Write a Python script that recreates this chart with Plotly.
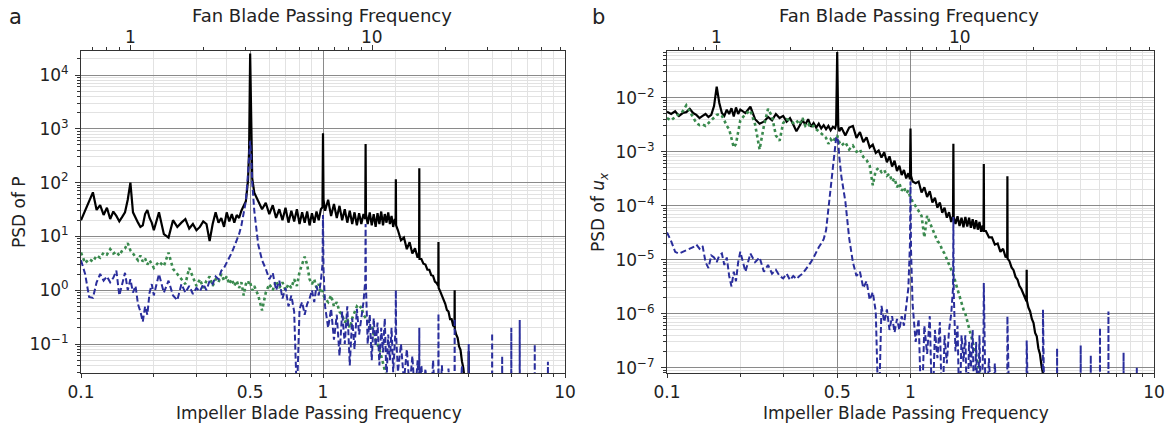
import math
import plotly.graph_objects as go

# ---------------- data ----------------
# frequency, in impeller blade passing frequencies (shared by all series)
freq = [
    0.100, 0.104, 0.108, 0.112, 0.116, 0.120, 0.124, 0.128, 0.132, 0.136,
    0.140, 0.144, 0.148, 0.152, 0.156, 0.160, 0.164, 0.168, 0.172, 0.176,
    0.180, 0.184, 0.188, 0.192, 0.196, 0.200, 0.210, 0.220, 0.230, 0.240,
    0.250, 0.260, 0.270, 0.280, 0.290, 0.300, 0.310, 0.320, 0.330, 0.340,
    0.350, 0.360, 0.370, 0.380, 0.390, 0.400, 0.410, 0.420, 0.430, 0.440,
    0.450, 0.460, 0.470, 0.480, 0.490, 0.495, 0.500, 0.505, 0.510, 0.520,
    0.540, 0.560, 0.580, 0.600, 0.620, 0.640, 0.660, 0.680, 0.700, 0.720,
    0.740, 0.760, 0.780, 0.800, 0.820, 0.840, 0.860, 0.880, 0.900, 0.920,
    0.940, 0.960, 0.980, 0.995, 1.000, 1.005, 1.020, 1.050, 1.080, 1.110,
    1.140, 1.170, 1.200, 1.230, 1.260, 1.290, 1.320, 1.350, 1.380, 1.410,
    1.440, 1.470, 1.495, 1.500, 1.505, 1.530, 1.560, 1.590, 1.620, 1.650,
    1.680, 1.710, 1.740, 1.770, 1.800, 1.830, 1.860, 1.890, 1.920, 1.950,
    1.980, 1.995, 2.000, 2.005, 2.040, 2.100, 2.160, 2.220, 2.280, 2.340,
    2.400, 2.460, 2.495, 2.500, 2.505, 2.550, 2.600, 2.650, 2.700, 2.750,
    2.800, 2.850, 2.900, 2.950, 2.995, 3.000, 3.005, 3.050, 3.100, 3.150,
    3.200, 3.250, 3.300, 3.350, 3.400, 3.450, 3.495, 3.500, 3.505, 3.550,
    3.600, 3.650, 3.700, 3.750, 3.800, 3.850, 3.900, 3.950, 3.995, 4.000,
    4.005, 4.200, 4.500, 4.800, 4.995, 5.000, 5.005, 5.200, 5.495, 5.500,
    5.505, 5.800, 5.995, 6.000, 6.005, 6.300, 6.495, 6.500, 6.505, 7.000,
    7.495, 7.500, 7.505, 8.000, 8.495, 8.500, 8.505, 9.000, 9.500, 10.00,
]

# panel a: PSD of P
p_black = [
    20, 30, 45, 66, 31, 38, 25, 34, 21, 29,
    24, 19, 23, 28, 48, 100, 28, 22, 18, 15,
    16, 26, 31, 22, 18, 13, 28, 11, 9.5, 20,
    15, 18, 21, 14, 17, 13, 15, 19, 17, 8.2,
    17, 28, 18, 22, 15, 28, 19, 26, 18, 25,
    22, 30, 36, 45, 110, 400, 25000, 450, 120, 65,
    45, 32, 42, 26, 38, 22, 32, 20, 34, 18,
    30, 19, 32, 17, 28, 18, 29, 16, 27, 18,
    29, 20, 32, 35, 830, 48, 30, 48, 24, 40,
    22, 37, 20, 32, 18, 30, 17, 28, 16, 27,
    17, 26, 21, 520, 26, 17, 28, 16, 26, 15,
    27, 17, 29, 16, 26, 18, 28, 17, 24, 15,
    21, 17, 115, 16, 13, 8.5, 9.5, 5.8, 7.8, 4.8,
    6.0, 4.0, 5.0, 185, 3.8, 3.8, 3.1, 3.0, 2.4, 2.4,
    1.9, 1.85, 1.45, 1.35, 1.2, 7.9, 1.1, 0.95, 0.8, 0.65,
    0.56, 0.43, 0.4, 0.29, 0.29, 0.22, 0.21, 1.0, 0.19, 0.15,
    0.13, 0.09, 0.078, 0.048, 0.036, 0.021, 0.014, 0.01, 0.008, 0.073,
    0.006,
]
p_blue = [
    3.6, 2.0, 0.75, 0.72, 1.4, 2.0, 1.5, 1.8, 1.4, 1.7,
    2.3, 0.8, 1.3, 2.1, 1.0, 1.6, 0.9, 1.2, 0.55, 0.4,
    0.26, 0.5, 0.35, 0.9, 1.3, 0.8, 2.0, 0.9, 1.5, 0.8,
    0.65, 1.3, 0.9, 1.2, 0.85, 1.1, 0.95, 1.3, 1.0, 1.5,
    1.3, 1.8, 1.6, 2.3, 2.6, 3.2, 3.9, 5.0, 6.5, 8.5,
    11, 16, 26, 45, 150, 400, 600, 300, 100, 30,
    7, 3.6, 2.5, 1.6, 2.1, 1.0, 1.5, 0.7, 1.1, 0.5,
    0.8, 0.4, 0.01, 0.45, 0.6, 0.35, 0.55, 0.7, 1.0, 0.6,
    1.2, 0.8, 1.5, 3, 25, 2.5, 0.5, 0.2, 0.45, 0.12,
    0.35, 0.06, 0.4, 0.1, 0.5, 0.04, 0.3, 0.08, 0.45, 0.15,
    0.3, 0.6, 1.5, 17, 1.2, 0.1, 0.35, 0.05, 0.3, 0.09,
    0.25, 0.04, 0.2, 0.07, 0.3, 0.02, 0.15, 0.05, 0.2, 0.03,
    0.12, 0.2, 1.0, 0.15, 0.03, 0.1, 0.02, 0.08, 0.015, 0.06,
    0.01, 0.05, 0.01, 0.2, 0.01, 0.04, 0.01, 0.035, 0.01, 0.03,
    0.01, 0.05, 0.01, 0.01, 0.01, 0.37, 0.01, 0.01, 0.04, 0.01,
    0.01, 0.01, 0.035, 0.01, 0.01, 0.01, 0.01, 0.3, 0.01, 0.01,
    0.01, 0.01, 0.01, 0.04, 0.01, 0.01, 0.01, 0.01, 0.01, 0.1,
    0.01, 0.01, 0.01, 0.01, 0.01, 0.16, 0.01, 0.01, 0.01, 0.06,
    0.01, 0.01, 0.01, 0.2, 0.01, 0.01, 0.01, 0.28, 0.01, 0.01,
    0.01, 0.1, 0.01, 0.01, 0.01, 0.047, 0.01,
]
p_green = [
    5.0, 3.2, 3.8, 3.4, 4.4, 4.0, 5.0, 4.6, 5.8, 4.8,
    5.2, 4.4, 5.5, 6.0, 7.5, 5.5, 4.8, 4.2, 3.6, 4.4,
    3.4, 3.9, 3.0, 3.6, 3.1, 2.6, 3.4, 2.8, 5.0, 2.5,
    2.0, 1.6, 1.3, 2.6, 1.7, 1.2, 1.6, 1.1, 1.5, 1.8,
    1.2, 1.6, 1.4, 2.0, 1.5, 1.8, 1.3, 1.6, 1.2, 1.5,
    1.1, 1.4, 0.8, 1.3, 1.5, 1.3, 1.4, 1.2, 1.0, 1.2,
    0.8, 0.42, 0.9, 1.3, 1.0, 1.5, 1.1, 1.4, 1.0, 1.3,
    1.1, 1.6, 1.2, 2.2, 3.0, 4.2, 3.0, 1.6, 1.3, 1.6,
    1.1, 1.3, 0.9, 1.0, 0.9, 0.8, 0.7, 0.6, 0.8, 0.5,
    0.6, 0.4, 0.35, 0.25, 0.3, 0.2, 0.3, 0.4, 0.5, 0.45,
    0.5, 0.35, 0.3, 0.3, 0.3, 0.28, 0.2, 0.22, 0.15, 0.12,
    0.1, 0.08, 0.06, 0.045, 0.035, 0.025, 0.018,
]

# panel b: PSD of u_x
u_black = [
    5.5e-3, 5.0e-3, 5.6e-3, 4.6e-3, 5.2e-3, 5.4e-3, 6.2e-3, 5.2e-3, 4.8e-3, 4.2e-3,
    4.6e-3, 5.0e-3, 4.4e-3, 4.8e-3, 7.0e-3, 1.6e-2, 8.0e-3, 5.2e-3, 4.6e-3, 6.0e-3,
    5.0e-3, 6.4e-3, 4.5e-3, 6.6e-3, 5.0e-3, 6.0e-3, 5.2e-3, 6.8e-3, 4.0e-3, 3.3e-3,
    3.6e-3, 4.4e-3, 3.8e-3, 5.0e-3, 4.2e-3, 4.6e-3, 3.6e-3, 4.2e-3, 3.2e-3, 2.4e-3,
    3.0e-3, 3.8e-3, 3.2e-3, 4.0e-3, 2.9e-3, 3.4e-3, 2.8e-3, 3.3e-3, 2.7e-3, 3.1e-3,
    2.6e-3, 3.0e-3, 2.5e-3, 2.9e-3, 2.7e-3, 3.2e-3, 7.0e-2, 3.0e-3, 2.4e-3, 2.8e-3,
    2.0e-3, 2.8e-3, 3.0e-3, 1.8e-3, 2.3e-3, 1.5e-3, 1.85e-3, 1.2e-3, 1.35e-3, 0.95e-3,
    1.05e-3, 7.8e-4, 9.8e-4, 6.4e-4, 8.2e-4, 5.3e-4, 6.8e-4, 4.4e-4, 5.5e-4, 3.7e-4,
    4.6e-4, 3.2e-4, 4.0e-4, 3.1e-4, 2.7e-3, 3.6e-4, 2.8e-4, 2.6e-4, 2.8e-4, 1.75e-4,
    2.2e-4, 1.45e-4, 1.85e-4, 1.15e-4, 1.4e-4, 0.92e-4, 1.15e-4, 7.4e-5, 9.2e-5, 6.0e-5,
    7.6e-5, 5.0e-5, 6.5e-5, 1.4e-3, 6.2e-5, 4.6e-5, 6.4e-5, 4.2e-5, 6.0e-5, 4.0e-5,
    6.2e-5, 4.1e-5, 6.0e-5, 3.9e-5, 5.6e-5, 3.7e-5, 5.4e-5, 3.6e-5, 5.0e-5, 3.3e-5,
    4.3e-5, 3.3e-5, 5.9e-4, 3.4e-5, 3.4e-5, 2.6e-5, 2.6e-5, 1.9e-5, 2.0e-5, 1.4e-5,
    1.6e-5, 1.1e-5, 1.2e-5, 3.5e-4, 1.05e-5, 9.4e-6, 7.2e-6, 6.4e-6, 4.8e-6, 4.3e-6,
    3.3e-6, 2.9e-6, 2.3e-6, 2.0e-6, 1.7e-6, 6.5e-6, 1.75e-6, 1.3e-6, 1.1e-6, 8.0e-7,
    6.8e-7, 4.4e-7, 3.8e-7, 2.3e-7, 1.8e-7, 1.1e-7, 8.0e-8, 9.0e-8, 6.0e-8, 4.0e-8,
]
u_blue = [
    3.2e-5, 2.2e-5, 1.4e-5, 1.3e-5, 1.4e-5, 1.5e-5, 1.6e-5, 1.7e-5, 1.9e-5, 1.6e-5,
    1.8e-5, 9.0e-6, 7.0e-6, 1.2e-5, 1.1e-5, 9.0e-6, 1.2e-5, 1.3e-5, 8.0e-6, 1.1e-5,
    5.0e-6, 3.2e-6, 6.0e-6, 4.0e-6, 9.0e-6, 1.4e-5, 6.0e-6, 1.3e-5, 9.0e-6, 1.1e-5,
    6.0e-6, 8.0e-6, 5.5e-6, 6.5e-6, 5.0e-6, 4.5e-6, 5.5e-6, 4.2e-6, 5.0e-6, 4.4e-6,
    5.0e-6, 5.5e-6, 6.5e-6, 7.5e-6, 9.0e-6, 1.1e-5, 1.4e-5, 1.7e-5, 2.0e-5, 2.4e-5,
    3.5e-5, 9.0e-5, 2.2e-4, 6.0e-4, 1.3e-3, 1.8e-3, 1.9e-3, 1.5e-3, 8.0e-4, 3.5e-4,
    1.2e-4, 2.5e-5, 9.0e-6, 5.0e-6, 6.0e-6, 3.0e-6, 4.0e-6, 1.8e-6, 2.5e-6, 1.1e-6,
    1.0e-8, 1.4e-6, 7.0e-7, 1.2e-6, 5.0e-7, 9.0e-7, 4.5e-7, 8.0e-7, 5.0e-7, 9.0e-7,
    6.0e-7, 1.2e-6, 3.0e-6, 2.0e-5, 2.8e-4, 1.5e-5, 1.5e-6, 3.0e-7, 8.0e-7, 1.0e-8,
    6.0e-7, 1.8e-7, 9.0e-7, 1.0e-8, 5.0e-7, 1.5e-7, 7.0e-7, 1.0e-8, 4.0e-7, 1.2e-7,
    5.0e-7, 1.0e-6, 3.0e-6, 6.2e-5, 2.5e-6, 2.0e-7, 6.0e-7, 1.0e-8, 4.0e-7, 1.3e-7,
    4.0e-7, 1.0e-8, 3.0e-7, 1.0e-7, 5.0e-7, 1.0e-8, 3.0e-7, 1.0e-8, 4.0e-7, 1.0e-8,
    2.0e-7, 5.0e-7, 3.7e-6, 4.0e-7, 1.0e-8, 1.5e-7, 1.0e-8, 1.2e-7, 1.0e-8, 1.0e-8,
    1.0e-8, 1.0e-8, 1.0e-8, 9.0e-7, 1.0e-8, 1.0e-8, 1.0e-8, 1.0e-8, 1.0e-8, 1.0e-8,
    1.0e-8, 1.0e-8, 1.0e-8, 1.0e-8, 1.0e-8, 3.2e-7, 1.0e-8, 1.0e-8, 1.0e-8, 1.0e-8,
    1.0e-8, 1.0e-8, 1.0e-8, 1.0e-8, 1.0e-8, 1.0e-8, 1.0e-8, 1.2e-6, 1.0e-8, 1.0e-8,
    1.0e-8, 1.0e-8, 1.0e-8, 1.0e-8, 1.0e-8, 1.0e-8, 1.0e-8, 1.0e-8, 1.0e-8, 2.3e-7,
    1.0e-8, 1.0e-8, 1.0e-8, 1.0e-8, 1.0e-8, 2.6e-7, 1.0e-8, 1.0e-8, 1.0e-8, 1.7e-7,
    1.0e-8, 1.0e-8, 1.0e-8, 5.5e-7, 1.0e-8, 1.0e-8, 1.0e-8, 1.1e-6, 1.0e-8, 1.0e-8,
    1.0e-8, 1.9e-7, 1.0e-8, 1.0e-8, 1.0e-8, 1.0e-7, 1.0e-8,
]
u_green = [
    4.2e-3, 3.8e-3, 4.4e-3, 5.0e-3, 5.6e-3, 7.2e-3, 5.5e-3, 4.2e-3, 3.4e-3, 3.1e-3,
    3.2e-3, 3.0e-3, 3.4e-3, 3.9e-3, 4.4e-3, 4.8e-3, 5.0e-3, 4.6e-3, 3.8e-3, 3.0e-3,
    2.6e-3, 1.7e-3, 1.2e-3, 1.4e-3, 2.4e-3, 3.8e-3, 5.0e-3, 5.8e-3, 3.2e-3, 1.1e-3,
    3.0e-3, 6.2e-3, 4.5e-3, 2.0e-3, 1.6e-3, 3.4e-3, 4.0e-3, 3.8e-3, 3.4e-3, 3.8e-3,
    3.2e-3, 4.2e-3, 3.0e-3, 3.3e-3, 2.8e-3, 3.0e-3, 2.6e-3, 2.4e-3, 2.2e-3, 2.0e-3,
    1.8e-3, 1.4e-3, 1.7e-3, 1.5e-3, 1.8e-3, 1.9e-3, 2.0e-3, 1.7e-3, 1.5e-3, 1.3e-3,
    1.5e-3, 1.1e-3, 1.3e-3, 1.0e-3, 1.1e-3, 8.0e-4, 7.0e-4, 5.5e-4, 2.4e-4, 4.5e-4,
    5.0e-4, 4.2e-4, 4.6e-4, 3.6e-4, 3.9e-4, 2.8e-4, 3.2e-4, 2.2e-4, 2.6e-4, 1.9e-4,
    2.2e-4, 1.7e-4, 1.9e-4, 1.5e-4, 1.4e-4, 1.35e-4, 1.2e-4, 1.0e-4, 8.0e-5, 6.5e-5,
    2.6e-5, 6.5e-5, 5.0e-5, 3.6e-5, 3.0e-5, 2.2e-5, 2.0e-5, 1.5e-5, 1.3e-5, 1.0e-5,
    8.0e-6, 6.5e-6, 5.5e-6, 5.3e-6, 5.1e-6, 3.8e-6, 2.8e-6, 2.0e-6, 1.6e-6, 1.2e-6,
    1.0e-6, 7.5e-7, 5.5e-7, 4.2e-7, 3.2e-7, 2.4e-7, 1.7e-7, 1.2e-7, 8.0e-8, 5.0e-8,
]

# axis ticks
x_ticks = [0.1, 0.5, 1, 10]
x_ticktext = ["0.1", "0.5", "1", "10"]
x_minor = [0.2, 0.3, 0.4, 0.6, 0.7, 0.8, 0.9, 2, 3, 4, 5, 6, 7, 8, 9]
fan_ticks = [1, 10]
fan_ticktext = ["1", "10"]
fan_minor = [0.7, 0.8, 0.9, 2, 3, 4, 5, 6, 7, 8, 9, 20, 30, 40, 50, 60]
fan_per_impeller = 6.25   # fan BPF = 6.25 x impeller BPF

p_ticks = [1e-1, 1e0, 1e1, 1e2, 1e3, 1e4]
p_ticktext = ["10<sup>−1</sup>", "10<sup>0</sup>", "10<sup>1</sup>",
              "10<sup>2</sup>", "10<sup>3</sup>", "10<sup>4</sup>"]
u_ticks = [1e-7, 1e-6, 1e-5, 1e-4, 1e-3, 1e-2]
u_ticktext = ["10<sup>−7</sup>", "10<sup>−6</sup>", "10<sup>−5</sup>",
              "10<sup>−4</sup>", "10<sup>−3</sup>", "10<sup>−2</sup>"]
p_minor = [m * 10.0 ** k for k in range(-2, 5) for m in range(2, 10)]
u_minor = [m * 10.0 ** k for k in range(-8, -1) for m in range(2, 10)]

# ---------------- figure ----------------
W, H = 1170, 425
FONT = "DejaVu Sans"
BLACK, BLUE, GREEN = "#000000", "#2a2e9c", "#3a8a4e"
TXT = "#222222"


def pad(v):
    return list(v) + [None] * (len(freq) - len(v))


def xdom(a, b):
    return [a / W, b / W]


def ydom(top, bottom):
    return [1 - bottom / H, 1 - top / H]


fig = go.Figure()
panels = [
    ("x", "y", p_black, p_green, p_blue),
    ("x2", "y2", u_black, u_green, u_blue),
]
for xa, ya, blk, grn, blu in panels:
    fig.add_trace(go.Scatter(x=freq, y=pad(blk), mode="lines", xaxis=xa, yaxis=ya,
                             line=dict(color=BLACK, width=2.2), showlegend=False,
                             hoverinfo="skip"))
    fig.add_trace(go.Scatter(x=freq, y=pad(grn), mode="lines", xaxis=xa, yaxis=ya,
                             line=dict(color=GREEN, width=2.6, dash="dot"),
                             showlegend=False, hoverinfo="skip"))
    fig.add_trace(go.Scatter(x=freq, y=pad(blu), mode="lines", xaxis=xa, yaxis=ya,
                             line=dict(color=BLUE, width=2, dash="6px,3px"),
                             showlegend=False, hoverinfo="skip"))
# dummy traces so the top (fan) axes are drawn
fig.add_trace(go.Scatter(x=[1], y=[None], xaxis="x3", yaxis="y", showlegend=False,
                         hoverinfo="skip"))
fig.add_trace(go.Scatter(x=[1], y=[None], xaxis="x4", yaxis="y2", showlegend=False,
                         hoverinfo="skip"))

tickfont = dict(family=FONT, size=17, color=TXT)
MAJOR_GRID = "#8a8a8a"
MINOR_GRID = "#e2e2e2"
fan_offset = math.log10(fan_per_impeller)

bottom_common = dict(
    type="log", range=[-1, 1], tickvals=x_ticks, ticktext=x_ticktext,
    ticks="outside", ticklen=4, tickwidth=1, tickcolor="#333",
    showline=True, linecolor="#333", linewidth=1, mirror=True,
    showgrid=True, gridcolor=MAJOR_GRID, gridwidth=1, zeroline=False,
    tickfont=tickfont, automargin=False, ticklabelstandoff=0,
    minor=dict(tickmode="array", tickvals=x_minor, ticks="outside", ticklen=3,
               tickcolor="#333", showgrid=True, gridcolor=MINOR_GRID, gridwidth=1),
)
top_common = dict(
    type="log", side="top", range=[-1 + fan_offset, 1 + fan_offset],
    tickvals=fan_ticks, showticklabels=False,
    ticks="outside", ticklen=5, tickwidth=1, tickcolor="#333",
    showline=True, linecolor="#333", linewidth=1, showgrid=False, zeroline=False,
    automargin=False,
    minor=dict(tickmode="array", tickvals=fan_minor, ticks="outside", ticklen=3,
               tickcolor="#333", showgrid=False),
)
left_common = dict(
    type="log", ticks="outside", ticklen=5, tickwidth=1, tickcolor="#333",
    showline=True, linecolor="#333", linewidth=1, mirror=True,
    showgrid=True, gridcolor=MAJOR_GRID, gridwidth=1, zeroline=False,
    tickfont=tickfont, automargin=False, ticklabelstandoff=3,
)

fig.update_layout(
    width=W, height=H, margin=dict(l=0, r=0, t=0, b=0),
    paper_bgcolor="white", plot_bgcolor="white",
    font=dict(family=FONT, size=17, color=TXT),
    xaxis=dict(domain=xdom(81, 565), anchor="y", **bottom_common),
    xaxis2=dict(domain=xdom(667, 1154), anchor="y2", **bottom_common),
    xaxis3=dict(domain=xdom(81, 565), anchor="y", overlaying="x", **top_common),
    xaxis4=dict(domain=xdom(667, 1154), anchor="y2", overlaying="x2", **top_common),
    yaxis=dict(domain=ydom(51, 373), anchor="x", range=[-1.539, 4.446],
               tickvals=p_ticks, ticktext=p_ticktext,
               minor=dict(tickmode="array", tickvals=p_minor, ticks="outside",
                          ticklen=3, tickcolor="#333", showgrid=True,
                          gridcolor=MINOR_GRID, gridwidth=1),
               **left_common),
    yaxis2=dict(domain=ydom(51, 373), anchor="x2", range=[-7.098, -1.135],
                tickvals=u_ticks, ticktext=u_ticktext,
                minor=dict(tickmode="array", tickvals=u_minor, ticks="outside",
                           ticklen=3, tickcolor="#333", showgrid=True,
                           gridcolor=MINOR_GRID, gridwidth=1),
                **left_common),
)

ann = []


def add_text(text, x, y, size=17, angle=0):
    ann.append(dict(text=text, x=x / W, y=1 - y / H, xref="paper", yref="paper",
                    showarrow=False, xanchor="center", yanchor="middle",
                    textangle=angle, font=dict(family=FONT, size=size, color=TXT)))


add_text("a", 15, 17, size=21)
add_text("b", 598, 17, size=21)
add_text("Fan Blade Passing Frequency", 322, 16, size=18)
add_text("Fan Blade Passing Frequency", 909, 16, size=18)
add_text("Impeller Blade Passing Frequency", 319, 413)
add_text("Impeller Blade Passing Frequency", 906, 413)
add_text("PSD of P", 19, 212, angle=-90)
add_text("PSD of <i>u</i><sub><i>x</i></sub>", 600, 212, angle=-90)

# top (fan) axis tick labels, placed through the fan axes
for xref in ("x3", "x4"):
    for v, t in zip(fan_ticks, fan_ticktext):
        ann.append(dict(text=t, x=math.log10(v), xref=xref, y=1 - 37 / H, yref="paper",
                        showarrow=False, xanchor="center", yanchor="middle",
                        font=dict(family=FONT, size=17, color=TXT)))

fig.update_layout(annotations=ann)

fig.write_html(
    "out.html",
    config={"displayModeBar": False},
    post_script="document.body.style.margin='0';document.body.style.padding='0';"
                "document.documentElement.style.overflow='hidden';",
)
